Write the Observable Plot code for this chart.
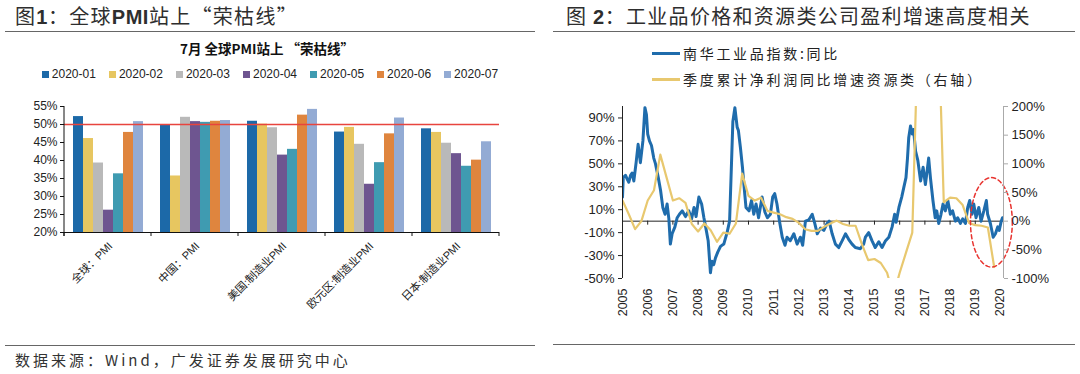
<!DOCTYPE html>
<html><head><meta charset="utf-8">
<script src="https://cdn.jsdelivr.net/npm/d3@7"></script>
<script src="https://cdn.jsdelivr.net/npm/@observablehq/plot@0.6"></script>
<style>
html,body{margin:0;padding:0;background:#fff}
body{width:1080px;height:374px;position:relative;overflow:hidden;font-family:"Liberation Sans",Arial,"Noto Sans CJK SC",sans-serif;color:#222}
.abs{position:absolute}
.title{font-family:"Noto Sans CJK SC",sans-serif;font-size:20px;color:#2e2e2e;line-height:20px;white-space:nowrap;letter-spacing:1.3px}
.title b{font-family:"Liberation Sans",Arial,sans-serif;font-weight:bold;letter-spacing:0.5px}
.rule{height:0;border-top:1.6px solid #666}
.ctitle{font-family:"Noto Sans CJK SC",sans-serif;font-weight:bold;font-size:13.5px;line-height:16px;text-align:center;color:#111}
.legend{display:flex;justify-content:center;align-items:center;font-size:12px;line-height:14px;color:#222}
.legend .it{display:flex;align-items:center;margin:0 6.5px}
.legend .sw{width:7px;height:7px;margin-right:3px}
.rleg{font-family:"Noto Sans CJK SC",sans-serif;font-size:14px;letter-spacing:2.7px;line-height:18px;display:flex;align-items:center;white-space:nowrap;color:#222}
.rleg .ln{width:28px;height:3px;margin-right:3px}
.src{font-family:"Noto Sans CJK SC",sans-serif;font-size:15px;letter-spacing:3px;line-height:18px;color:#333;white-space:nowrap}
</style></head><body>
<div class="abs title" style="left:15px;top:6px">图<b>1</b>：全球<b>PMI</b>站上“荣枯线”</div>
<div class="abs rule" style="left:5px;top:31px;width:530px"></div>
<div class="abs ctitle" style="left:0;top:40px;width:534px" id="ctitle"></div>
<div class="abs legend" style="left:0;top:67px;width:540px" id="legend"></div>
<div class="abs" style="left:0;top:90px" id="left"></div>
<div class="abs rule" style="left:5px;top:345px;width:530px"></div>
<div class="abs src" style="left:15px;top:351px">数据来源：Wind，广发证券发展研究中心</div>

<div class="abs title" style="left:566px;top:6px">图 <b>2</b>：工业品价格和资源类公司盈利增速高度相关</div>
<div class="abs rule" style="left:553px;top:31px;width:522px"></div>
<div class="abs" style="left:652px;top:40px" id="rleg"></div>
<div class="abs" style="left:540px;top:90px" id="right"></div>
<div class="abs rule" style="left:553px;top:344px;width:522px"></div>

<script>
// ---------- Figure 1 data ----------
const chartTitle1 = "7月 全球PMI站上 “荣枯线”";
const categories = ["全球：PMI", "中国：PMI", "美国:制造业PMI", "欧元区:制造业PMI", "日本:制造业PMI"];
const months = ["2020-01", "2020-02", "2020-03", "2020-04", "2020-05", "2020-06", "2020-07"];
const monthColors = ["#1c69a8", "#e7c660", "#b9b9b9", "#6e5590", "#3f9bb1", "#df853e", "#93abd4"];
const pmiGlobal = [52.2, 46.1, 39.3, 26.2, 36.3, 47.8, 50.8];
const pmiChina  = [50.0, 35.7, 52.0, 50.8, 50.6, 50.9, 51.1];
const pmiUS     = [50.9, 50.1, 49.1, 41.5, 43.1, 52.6, 54.2];
const pmiEuro   = [47.9, 49.2, 44.5, 33.4, 39.4, 47.4, 51.8];
const pmiJapan  = [48.8, 47.8, 44.8, 41.9, 38.4, 40.1, 45.2];
const pmiTicks  = [20, 25, 30, 35, 40, 45, 50, 55];
const boomBust  = 50;

// ---------- Figure 2 data ----------
const legend2 = ["南华工业品指数:同比", "季度累计净利润同比增速资源类（右轴）"];
const seriesColors2 = ["#1f6cac", "#e8c86f"];
const yearTicks = [2005,2006,2007,2008,2009,2010,2011,2012,2013,2014,2015,2016,2017,2018,2019,2020];
const leftTicks = [-50, -30, -10, 10, 30, 50, 70, 90];
const rightTicks = [-100, -50, 0, 50, 100, 150, 200];
// Nanhua industrial index YoY (%), [year, value]
const nanhuaYoY = [
[2005.00,21],[2005.03,38],[2005.12,40],[2005.20,36],[2005.25,34],[2005.32,40],[2005.38,42],[2005.45,35],
[2005.54,51],[2005.62,67],[2005.71,51],[2005.81,70],[2005.89,99],[2005.95,93],[2006.00,76],[2006.07,70],
[2006.15,66],[2006.24,55],[2006.31,50],[2006.42,38],[2006.51,27],[2006.60,12],[2006.69,6],[2006.77,15],
[2006.84,2],[2006.90,-20],[2006.97,-11],[2007.08,-5],[2007.17,3],[2007.26,6],[2007.37,9],[2007.50,4],
[2007.63,9],[2007.74,2],[2007.84,12],[2007.92,4],[2008.03,21],[2008.14,15],[2008.23,3],[2008.30,-5],
[2008.40,-17],[2008.49,-45],[2008.55,-35],[2008.62,-38],[2008.69,-32],[2008.78,-27],[2008.89,-22],
[2009.02,-20],[2009.15,-10],[2009.25,0],[2009.31,40],[2009.38,87],[2009.46,99],[2009.55,82],[2009.60,79],
[2009.68,64],[2009.76,47],[2009.83,29],[2009.90,12],[2010.02,9],[2010.12,18],[2010.21,6],[2010.30,15],
[2010.40,3],[2010.54,21],[2010.65,8],[2010.75,3],[2010.87,6],[2010.96,21],[2011.04,24],[2011.13,15],
[2011.23,0],[2011.34,-14],[2011.45,-21],[2011.53,-14],[2011.66,-17],[2011.80,-11],[2011.93,-20],
[2012.06,-14],[2012.15,-21],[2012.26,0],[2012.39,1],[2012.53,6],[2012.63,-2],[2012.73,-11],[2012.86,-6],
[2012.99,-8],[2013.12,-2],[2013.20,0],[2013.32,-11],[2013.45,-20],[2013.58,-23],[2013.72,-17],[2013.85,-11],
[2013.98,-16],[2014.11,-20],[2014.24,-23],[2014.44,-24],[2014.57,-20],[2014.64,-14],[2014.77,-10],
[2014.90,-17],[2015.03,-23],[2015.17,-18],[2015.30,-23],[2015.44,-17],[2015.57,-14],[2015.70,-5],
[2015.80,6],[2015.86,-1],[2015.97,12],[2016.08,21],[2016.16,29],[2016.25,38],[2016.31,55],[2016.36,73],
[2016.43,83],[2016.50,76],[2016.55,80],[2016.63,61],[2016.72,53],[2016.83,35],[2016.93,47],[2017.02,32],
[2017.09,44],[2017.15,55],[2017.22,38],[2017.32,18],[2017.41,3],[2017.47,9],[2017.55,-2],[2017.64,6],
[2017.72,15],[2017.81,9],[2017.91,18],[2018.01,6],[2018.10,9],[2018.21,0],[2018.30,3],[2018.41,-2],
[2018.50,2],[2018.61,-2],[2018.70,12],[2018.78,18],[2018.87,6],[2018.94,15],[2019.03,3],[2019.14,12],
[2019.23,0],[2019.34,9],[2019.44,18],[2019.49,6],[2019.60,-2],[2019.71,-14],[2019.80,-11],[2019.89,-5],
[2019.95,-8],[2020.03,0],[2020.08,3]
];
// Resource sector cumulative net profit YoY (%), quarterly from 2005Q1 (right axis)
const profitStart = 2005;
const profitYoY = [
36,12,-14,0, 36,54,116,76, 36,40,32,-5, -18,-4,-16,-36, -20,-22,-4,83, 44,36,41,18,
15,12,7,4, -3,-14,-17,-17, -10,-4,1,-5, -8,-8,-40,-68, -66,-73,-90,-130, -90,-55,-20,370,
420,440,400,33, 41,40,28,-3, -7,-8,-11,-80
];
// red dashed highlight ellipse: [center year, center %, radius years, radius %]
const highlight = [2019.64, -1, 0.83, 39];

// ---------- Figure 1 ----------
document.getElementById("ctitle").textContent = chartTitle1;
const leg = d3.select("#legend");
months.forEach((m, i) => {
  const it = leg.append("div").attr("class", "it");
  it.append("div").attr("class", "sw").style("background", monthColors[i]);
  it.append("span").text(m);
});
const pmiSeries = [pmiGlobal, pmiChina, pmiUS, pmiEuro, pmiJapan];
const rows = [];
categories.forEach((c, ci) => months.forEach((m, mi) => rows.push({cat: c, month: m, value: pmiSeries[ci][mi]})));

const left = Plot.plot({
  width: 540, height: 200,
  marginLeft: 62, marginRight: 40, marginTop: 16, marginBottom: 58,
  style: {fontFamily: "'Liberation Sans', Arial, 'Noto Sans CJK SC', sans-serif", background: "transparent", overflow: "visible"},
  fx: {domain: categories, padding: 0, label: null, axis: null},
  x: {domain: months, paddingInner: 0, paddingOuter: 0.78, axis: null},
  y: {domain: [20, 55], label: null},
  color: {domain: months, range: monthColors},
  marks: [
    Plot.barY(rows, {fx: "cat", x: "month", y1: 20, y2: "value", fill: "month"}),
    Plot.ruleY([boomBust], {stroke: "#e8443e", strokeWidth: 1.4}),
    Plot.ruleY([20], {stroke: "#111", strokeWidth: 1}),
    Plot.axisY({ticks: pmiTicks, tickFormat: d => d + "%", tickSize: 4, tickPadding: 3, fontSize: 12, label: null, stroke: "#111", fill: "#222"})
  ]
});
document.getElementById("left").appendChild(left);
{
  const fx = left.scale("fx"), ys = left.scale("y");
  const svg = d3.select(left);
  const g = svg.append("g").attr("stroke", "#111").attr("stroke-width", 1);
  const y0 = ys.apply(20), y1 = ys.apply(55);
  const x0 = fx.apply(categories[0]);
  g.append("line").attr("x1", x0).attr("x2", x0).attr("y1", y1).attr("y2", y0 + 4);
  const edges = categories.map(c => fx.apply(c)).concat([fx.apply(categories[categories.length - 1]) + fx.bandwidth]);
  edges.forEach(e => g.append("line").attr("x1", e).attr("x2", e).attr("y1", y0).attr("y2", y0 + 4));
  const lg = svg.append("g").attr("font-size", 11).attr("fill", "#222")
    .attr("font-family", "'Liberation Sans', Arial, 'Noto Sans CJK SC', sans-serif");
  categories.forEach(c => {
    const cx = fx.apply(c) + fx.bandwidth / 2 + 3;
    lg.append("text").attr("text-anchor", "end").attr("dy", "0.35em")
      .attr("transform", `translate(${cx},${y0 + 12}) rotate(-45)`).text(c);
  });
}

// ---------- Figure 2 ----------
const rl = d3.select("#rleg");
legend2.forEach((t, i) => {
  const r = rl.append("div").attr("class", "rleg").style("height", "26px");
  r.append("div").attr("class", "ln").style("background", seriesColors2[i]);
  r.append("span").text(t);
});
const blueData = nanhuaYoY.map(([t, v]) => ({t, v}));
const yellowData = profitYoY.map((v, i) => ({t: profitStart + i * 0.25, v}));
const ellipse = d3.range(0, 73).map(k => {
  const a = k / 72 * 2 * Math.PI;
  return {t: highlight[0] + highlight[2] * Math.cos(a), v: highlight[1] + highlight[3] * Math.sin(a)};
});

const right = Plot.plot({
  width: 540, height: 240,
  marginLeft: 82, marginRight: 77, marginTop: 16, marginBottom: 52,
  style: {fontFamily: "'Liberation Sans', Arial, sans-serif", background: "transparent"},
  x: {domain: [2005, 2020.12], label: null},
  y: {domain: [-50, 100], label: null},
  marks: [
    Plot.ruleY([0], {stroke: "#222", strokeWidth: 1}),
    Plot.ruleX(yearTicks, {x: d => d, y1: 0, y2: 0, insetBottom: -4, stroke: "#222"}),
    Plot.line(blueData, {x: "t", y: "v", stroke: seriesColors2[0], strokeWidth: 3, clip: true, strokeLinejoin: "round"}),
    Plot.line(yellowData, {x: "t", y: d => d.v / 2, stroke: seriesColors2[1], strokeWidth: 2.2, clip: true}),
    Plot.line(ellipse, {x: "t", y: "v", stroke: "#e8332f", strokeWidth: 1.5, strokeDasharray: "4,3"}),
    Plot.ruleX([2005], {y1: -50, y2: 100, stroke: "#222"}),
    Plot.axisY({anchor: "left", ticks: leftTicks, tickFormat: d => d + "%", tickSize: 4, tickPadding: 4, fontSize: 13, stroke: "#222", fill: "#222", label: null}),
    Plot.ruleX([2020.12], {y1: -50, y2: 100, stroke: "#aaa"}),
    Plot.axisY({anchor: "right", ticks: rightTicks.map(d => d / 2), tickFormat: d => (d * 2) + "%", tickSize: 4, tickPadding: 4, fontSize: 13, stroke: "#aaa", fill: "#222", label: null}),
    Plot.axisX({anchor: "bottom", ticks: yearTicks, tickFormat: d => String(d), tickRotate: -90, tickSize: 0, tickPadding: 10, fontSize: 12.5, fill: "#222", label: null})
  ]
});
document.getElementById("right").appendChild(right);
</script>
</body></html>
